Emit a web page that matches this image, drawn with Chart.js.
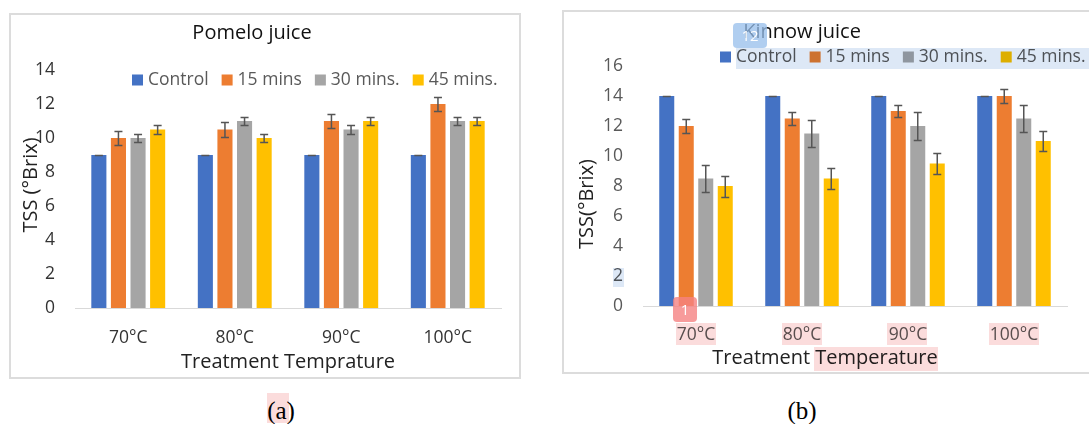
<!DOCTYPE html>
<html lang="en">
<head>
    <meta charset="utf-8">
    <title>TSS</title>
    <style>
        html, body { margin: 0; padding: 0; background: #fff; }
        body { width: 1089px; height: 424px; position: relative; overflow: hidden; font-family: "Open Sans", sans-serif; }
        .box { position: absolute; border: 2px solid #dcdcdc; background: #fff; box-sizing: border-box; }
        .box canvas { position: absolute; left: 0; top: 0; }
        .caption { position: absolute; font-family: "Liberation Serif", serif; font-size: 25px; color: #000; transform: translate(-50%, -50%); }
        .hl { position: absolute; mix-blend-mode: multiply; }
        .pink { background: #fbdcdc; }
        .blue { background: #dde8f6; }
        .mark { position: absolute; border-radius: 4px; color: #fff; font-size: 15px; text-align: center; }
    </style>
</head>
<body>
<div class="box" style="left:9px; top:13px; width:512px; height:366px;">
    <canvas id="chartA" width="508" height="362"></canvas>
</div>
<div class="box" style="left:562px; top:10px; width:540px; height:364px; border-right:none;">
    <canvas id="chartB" width="525" height="360"></canvas>
</div>
<div class="caption" style="left:281px; top:411px;">(a)</div>
<div class="caption" style="left:802px; top:411px;">(b)</div>

<!-- annotation highlights in the source page -->
<div class="hl pink" style="left:267px; top:393px; width:22px; height:30px;"></div>
<div class="hl blue" style="left:736px; top:48px; width:353px; height:21px;"></div>
<div class="hl blue" style="left:613px; top:268px; width:11px; height:19px;"></div>
<div class="hl pink" style="left:676px; top:323px; width:40px; height:22px;"></div>
<div class="hl pink" style="left:782px; top:323px; width:40px; height:22px;"></div>
<div class="hl pink" style="left:887px; top:323px; width:40px; height:22px;"></div>
<div class="hl pink" style="left:989px; top:323px; width:50px; height:22px;"></div>
<div class="hl pink" style="left:814px; top:347px; width:124px; height:24px;"></div>
<div class="mark" style="left:733px; top:23px; width:34px; height:25px; line-height:25px; background:rgba(150,190,235,0.75);">12</div>
<div class="mark" style="left:673px; top:297px; width:24px; height:25px; line-height:25px; background:rgba(245,130,130,0.8);">1</div>

<script src="https://cdn.jsdelivr.net/npm/chart.js@4.4.0/dist/chart.umd.min.js"></script>
<script>
    var temps = ['70°C', '80°C', '90°C', '100°C'];
    var seriesNames = ['Control', '15 mins', '30 mins.', '45 mins.'];
    var seriesColors = ['#4472C4', '#ED7D31', '#A5A5A5', '#FFC000'];

    // Pomelo juice, TSS (°Brix)
    var pomeloControl = [9, 9, 9, 9];
    var pomelo15 = [10, 10.5, 11, 12];
    var pomelo30 = [10, 11, 10.5, 11];
    var pomelo45 = [10.5, 10, 11, 11];
    var pomeloErrControl = [0, 0, 0, 0];
    var pomeloErr15 = [0.42, 0.42, 0.42, 0.42];
    var pomeloErr30 = [0.25, 0.25, 0.25, 0.25];
    var pomeloErr45 = [0.25, 0.25, 0.25, 0.25];

    // Kinnow juice, TSS (°Brix)
    var kinnowControl = [14, 14, 14, 14];
    var kinnow15 = [12, 12.5, 13, 14];
    var kinnow30 = [8.5, 11.5, 12, 12.5];
    var kinnow45 = [8, 8.5, 9.5, 11];
    var kinnowErrControl = [0, 0, 0, 0];
    var kinnowErr15 = [0.45, 0.45, 0.43, 0.45];
    var kinnowErr30 = [0.92, 0.9, 0.92, 0.92];
    var kinnowErr45 = [0.7, 0.67, 0.67, 0.67];

    var errorBars = {
        id: 'errorBars',
        afterDatasetsDraw: function (chart) {
            var ctx = chart.ctx, y = chart.scales.y;
            ctx.save();
            ctx.strokeStyle = '#555';
            ctx.lineWidth = 1.5;
            chart.data.datasets.forEach(function (ds, i) {
                chart.getDatasetMeta(i).data.forEach(function (bar, j) {
                    var v = ds.data[j], e = ds.errors[j];
                    var top = Math.round(y.getPixelForValue(v + e)) + 0.5;
                    var bot = Math.round(y.getPixelForValue(v - e)) + 0.5;
                    ctx.beginPath();
                    ctx.moveTo(bar.x, top); ctx.lineTo(bar.x, bot);
                    ctx.moveTo(bar.x - 4, top); ctx.lineTo(bar.x + 4, top);
                    ctx.moveTo(bar.x - 4, bot); ctx.lineTo(bar.x + 4, bot);
                    ctx.stroke();
                });
            });
            ctx.restore();
        }
    };

    // title, legend and axis titles, Excel style (legend sits inside the plot)
    var excelText = {
        id: 'excelText',
        afterDraw: function (chart, args, o) {
            var ctx = chart.ctx;
            ctx.save();
            ctx.textBaseline = 'middle';
            ctx.textAlign = 'center';
            ctx.fillStyle = o.titleColor;
            ctx.font = '20px "Open Sans"';
            ctx.fillText(o.title, o.titleX, o.titleY);

            ctx.fillStyle = o.axisColor;
            ctx.fillText(o.xTitle, o.xTitleX, o.xTitleY);
            ctx.save();
            ctx.translate(o.yTitleX, o.yTitleY);
            ctx.rotate(-Math.PI / 2);
            ctx.fillText(o.yTitle, 0, 0);
            ctx.restore();

            ctx.textAlign = 'left';
            ctx.font = '17.5px "Open Sans"';
            var x = o.legendX;
            chart.data.datasets.forEach(function (ds) {
                ctx.fillStyle = ds.backgroundColor;
                ctx.fillRect(x, o.legendY - 5.5, 11, 11);
                x += 16;
                ctx.fillStyle = '#595959';
                ctx.fillText(ds.label, x, o.legendY);
                x += ctx.measureText(ds.label).width + 13;
            });
            ctx.restore();
        }
    };

    function makeDatasets(values, errors) {
        return values.map(function (vals, i) {
            return {
                label: seriesNames[i],
                data: vals,
                errors: errors[i],
                backgroundColor: seriesColors[i],
                categoryPercentage: 0.736,
                barPercentage: 0.77
            };
        });
    }

    function makeChart(id, datasets, cfg) {
        return new Chart(document.getElementById(id), {
            type: 'bar',
            data: { labels: temps, datasets: datasets },
            options: {
                responsive: false,
                animation: false,
                events: [],
                layout: { padding: { top: cfg.padTop, right: cfg.padRight, left: 0, bottom: 0 } },
                scales: {
                    x: {
                        grid: { display: false, drawTicks: false },
                        border: { display: true, color: '#d9d9d9', width: 1 },
                        ticks: { color: cfg.tickColor, font: { family: 'Open Sans', size: 17.5 }, padding: cfg.xPad },
                        afterFit: function (s) { s.height = cfg.xHeight; }
                    },
                    y: {
                        min: 0, max: cfg.max,
                        grid: { display: false, drawTicks: false },
                        border: { display: false },
                        ticks: { stepSize: 2, color: cfg.tickColor, font: { family: 'Open Sans', size: 17.5 }, padding: cfg.yPad },
                        afterFit: function (s) { s.width = cfg.yWidth; }
                    }
                },
                plugins: {
                    legend: { display: false },
                    title: { display: false },
                    tooltip: { enabled: false },
                    excelText: cfg.text
                }
            },
            plugins: [errorBars, excelText]
        });
    }

    makeChart('chartA', makeDatasets(
        [pomeloControl, pomelo15, pomelo30, pomelo45],
        [pomeloErrControl, pomeloErr15, pomeloErr30, pomeloErr45]
    ), {
        max: 14, padTop: 55, padRight: 18, yWidth: 64, xHeight: 69, xPad: 20, yPad: 20,
        tickColor: '#333',
        text: {
            title: 'Pomelo juice', titleX: 241, titleY: 18, titleColor: '#111',
            legendX: 121, legendY: 65,
            xTitle: 'Treatment Temprature', xTitleX: 277, xTitleY: 347,
            yTitle: 'TSS (°Brix)', yTitleX: 20, yTitleY: 170,
            axisColor: '#222'
        }
    });

    makeChart('chartB', makeDatasets(
        [kinnowControl, kinnow15, kinnow30, kinnow45],
        [kinnowErrControl, kinnowErr15, kinnowErr30, kinnowErr45]
    ), {
        max: 16, padTop: 54, padRight: 22, yWidth: 79, xHeight: 66, xPad: 19, yPad: 20,
        tickColor: '#595959',
        text: {
            title: 'Kinnow juice', titleX: 238, titleY: 20, titleColor: '#111',
            legendX: 156, legendY: 45,
            xTitle: 'Treatment Temperature', xTitleX: 261, xTitleY: 346,
            yTitle: 'TSS(°Brix)', yTitleX: 23, yTitleY: 192,
            axisColor: '#222'
        }
    });
</script>
</body>
</html>
